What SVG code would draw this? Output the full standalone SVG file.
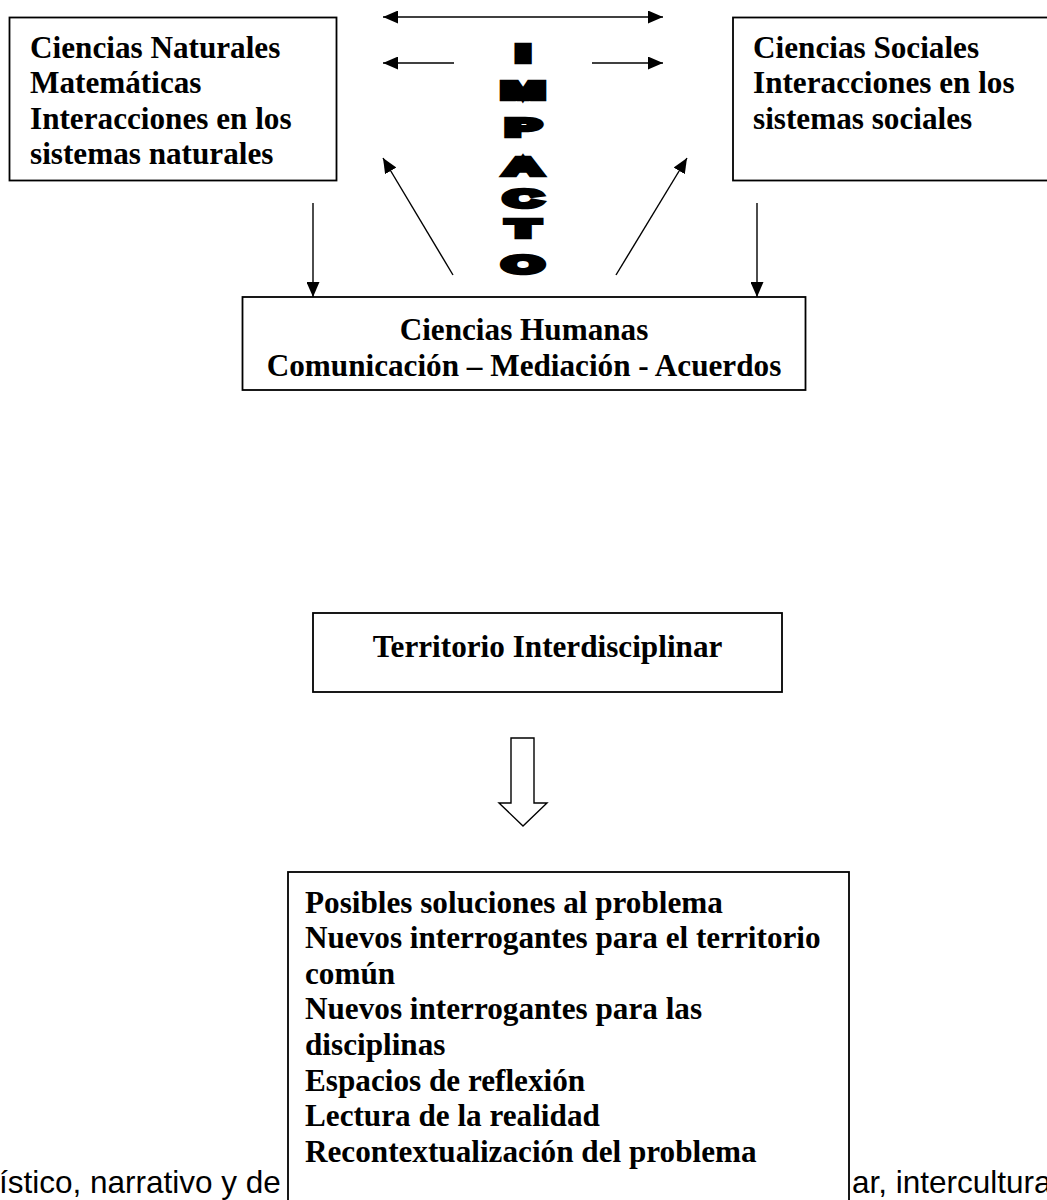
<svg xmlns="http://www.w3.org/2000/svg" width="1047" height="1200" viewBox="0 0 1047 1200">
  <style>
    .box { fill: #ffffff; stroke: #000000; stroke-width: 1.8; }
    .t { font-family: "Liberation Serif", "Times New Roman", serif; font-weight: bold; font-size: 31.2px; fill: #000000; }
    .bg { font-family: "Liberation Sans", Arial, sans-serif; font-size: 31.5px; fill: #000000; }
    .imp { font-family: "Liberation Sans", Arial, sans-serif; font-weight: bold; font-size: 24px; fill: #000000; stroke: #000000; stroke-width: 4.4; stroke-linejoin: miter; text-anchor: middle; }
    .ln { fill: none; stroke: #000000; stroke-width: 1.4; }
  </style>
  <defs>
    <marker id="ah" viewBox="0 0 15 13" refX="15" refY="6.5" markerWidth="15" markerHeight="13" markerUnits="userSpaceOnUse" orient="auto-start-reverse">
      <path d="M0,0 L15,6.5 L0,13 Z" fill="#000000"/>
    </marker>
  </defs>
  <rect width="1047" height="1200" fill="#ffffff"/>

  <!-- background page text partially hidden by bottom box -->
  <text class="bg" x="-1" y="1193">ístico, narrativo y de</text>
  <text class="bg" x="852" y="1193">ar, intercultura</text>

  <g id="naturales">
    <rect class="box" x="9.5" y="17.5" width="327" height="163"/>
    <text class="t" x="30" y="57.5">Ciencias Naturales</text>
    <text class="t" x="30" y="93">Matemáticas</text>
    <text class="t" x="30" y="128.6">Interacciones en los</text>
    <text class="t" x="30" y="164.2">sistemas naturales</text>
  </g>

  <g id="sociales">
    <rect class="box" x="733" y="17.5" width="330" height="163"/>
    <text class="t" x="753" y="57.5">Ciencias Sociales</text>
    <text class="t" x="753" y="93">Interacciones en los</text>
    <text class="t" x="753" y="128.6">sistemas sociales</text>
  </g>

  <g id="impacto">
    <text class="imp" transform="translate(523,61.5) scale(2.2,1)">I</text>
    <text class="imp" transform="translate(523,98.5) scale(2.2,1)">M</text>
    <text class="imp" transform="translate(523,135.5) scale(2.2,1)">P</text>
    <text class="imp" transform="translate(523,174.5) scale(2.2,1)">A</text>
    <text class="imp" transform="translate(523,206.5) scale(2.2,1)">C</text>
    <text class="imp" transform="translate(523,236.5) scale(2.2,1)">T</text>
    <text class="imp" transform="translate(523,272.5) scale(2.2,1)">O</text>
  </g>

  <g id="humanas">
    <rect class="box" x="242.5" y="297" width="563" height="93"/>
    <text class="t" x="524" y="339.5" text-anchor="middle">Ciencias Humanas</text>
    <text class="t" x="524" y="375.5" text-anchor="middle">Comunicación – Mediación - Acuerdos</text>
  </g>

  <g id="territorio">
    <rect class="box" x="313" y="613" width="469" height="79"/>
    <text class="t" x="547.5" y="656.5" text-anchor="middle">Territorio Interdisciplinar</text>
  </g>

  <g id="resultados">
    <rect class="box" x="288" y="872" width="561" height="340"/>
    <text class="t" x="305" y="912.5">Posibles soluciones al problema</text>
    <text class="t" x="305" y="948.1">Nuevos interrogantes para el territorio</text>
    <text class="t" x="305" y="983.7">común</text>
    <text class="t" x="305" y="1019.3">Nuevos interrogantes para las</text>
    <text class="t" x="305" y="1054.9">disciplinas</text>
    <text class="t" x="305" y="1090.5">Espacios de reflexión</text>
    <text class="t" x="305" y="1126.1">Lectura de la realidad</text>
    <text class="t" x="305" y="1161.7">Recontextualización del problema</text>
  </g>

  <g id="connectors">
    <line class="ln" x1="383" y1="17" x2="663" y2="17" marker-start="url(#ah)" marker-end="url(#ah)"/>
    <line class="ln" x1="454" y1="63" x2="383" y2="63" marker-end="url(#ah)"/>
    <line class="ln" x1="592" y1="63" x2="663" y2="63" marker-end="url(#ah)"/>
    <line class="ln" x1="453" y1="275" x2="383" y2="158" marker-end="url(#ah)"/>
    <line class="ln" x1="616" y1="275" x2="687" y2="158" marker-end="url(#ah)"/>
    <line class="ln" x1="313" y1="203" x2="313" y2="297" marker-end="url(#ah)"/>
    <line class="ln" x1="757" y1="203" x2="757" y2="297" marker-end="url(#ah)"/>
    <path class="ln" d="M511,738 L534,738 L534,803 L547,803 L523,826 L499,803 L511,803 Z" fill="#ffffff"/>
  </g>
</svg>
